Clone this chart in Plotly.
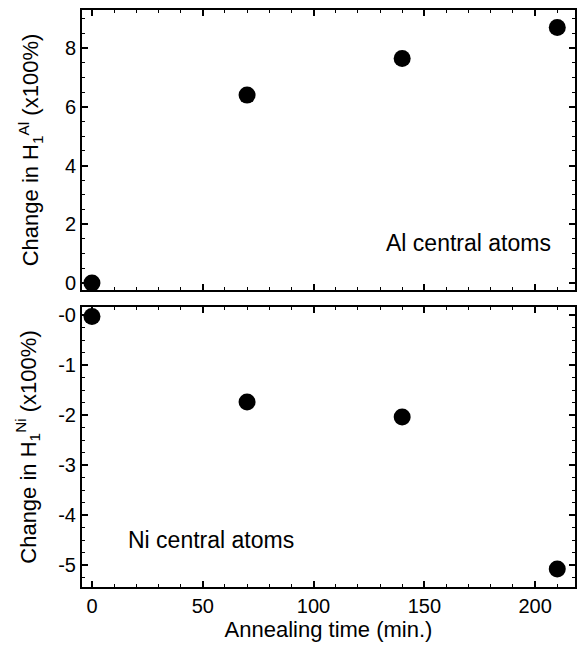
import plotly.graph_objects as go

time_min = [0, 70, 140, 210]
al_change = [0.0, 6.4, 7.65, 8.7]
ni_change = [-0.03, -1.74, -2.04, -5.08]

al_tickvals = [0, 2, 4, 6, 8]
al_ticktext = ["0", "2", "4", "6", "8"]
ni_tickvals = [0, -1, -2, -3, -4, -5]
ni_ticktext = ["-0", "-1", "-2", "-3", "-4", "-5"]
x_tickvals = [0, 50, 100, 150, 200]
x_ticktext = ["0", "50", "100", "150", "200"]

W, H = 581, 645
ml, mr, mt, mb = 82, 6, 10, 58
ph = H - mt - mb

def frac(ytop, ybot):
    return [(H - mb - ybot) / ph, (H - mb - ytop) / ph]

FAM = "Liberation Sans, Arial, Helvetica, sans-serif"
tickfont = dict(family=FAM, size=20, color="black")
titlefont = dict(family=FAM, size=22, color="black")
annfont = dict(family=FAM, size=23, color="black")

fig = go.Figure()
fig.add_trace(go.Scatter(x=time_min, y=al_change, mode="markers",
                         marker=dict(color="black", size=17), xaxis="x", yaxis="y", showlegend=False))
fig.add_trace(go.Scatter(x=time_min, y=ni_change, mode="markers",
                         marker=dict(color="black", size=17), xaxis="x2", yaxis="y2", showlegend=False))

common_axis = dict(showline=True, linecolor="black", linewidth=2, mirror="ticks",
                   ticks="inside", ticklen=6, tickwidth=1.5, tickcolor="black",
                   showgrid=False, zeroline=False, tickfont=tickfont, automargin=False)
minor_x = dict(dtick=10, ticks="inside", ticklen=3, tickcolor="black", tickwidth=1)

xrange = [-4.5, 218]
fig.update_layout(
    width=W, height=H, margin=dict(l=ml, r=mr, t=mt, b=mb),
    paper_bgcolor="white", plot_bgcolor="white", font=tickfont,
    xaxis=dict(domain=[0, 1], range=xrange, anchor="y", tickvals=x_tickvals,
               ticktext=x_ticktext, showticklabels=False, minor=minor_x, **common_axis),
    yaxis=dict(domain=frac(10, 290), range=[-0.24, 9.3], anchor="x",
               tickvals=al_tickvals, ticktext=al_ticktext,
               minor=dict(dtick=0.5, ticks="inside", ticklen=3, tickcolor="black", tickwidth=1),
               title=dict(text="Change in H<sub>1</sub><sup>Al</sup> (x100%)", font=titlefont, standoff=20),
               **common_axis),
    xaxis2=dict(domain=[0, 1], range=xrange, anchor="y2", tickvals=x_tickvals,
                ticktext=x_ticktext, minor=minor_x,
                title=dict(text="Annealing time (min.)", font=titlefont, standoff=4),
                **common_axis),
    yaxis2=dict(domain=frac(307, 587), range=[-5.44, 0.16], anchor="x2",
                tickvals=ni_tickvals, ticktext=ni_ticktext,
                minor=dict(dtick=0.25, ticks="inside", ticklen=3, tickcolor="black", tickwidth=1),
                title=dict(text="Change in H<sub>1</sub><sup>Ni</sup> (x100%)", font=titlefont, standoff=16),
                **common_axis),
    annotations=[
        dict(text="Al central atoms", x=(553 - ml) / (W - ml - mr), xref="paper", xanchor="right",
             y=1.36, yref="y", yanchor="middle", showarrow=False, font=annfont),
        dict(text="Ni central atoms", x=(126 - ml) / (W - ml - mr), xref="paper", xanchor="left",
             y=-4.5, yref="y2", yanchor="middle", showarrow=False, font=annfont),
    ],
)

fig.write_html("out.html", config={"displayModeBar": False},
               post_script="document.body.style.margin='0';document.body.style.padding='0';")
